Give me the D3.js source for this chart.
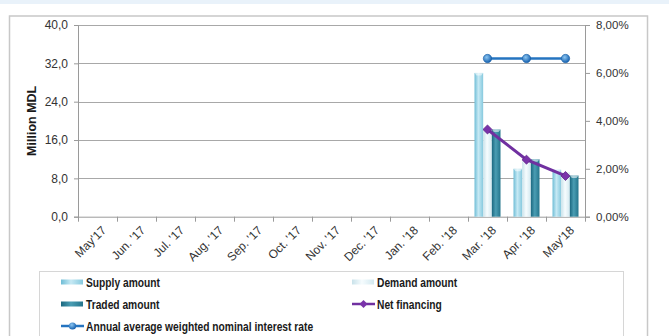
<!DOCTYPE html>
<html>
<head>
<meta charset="utf-8">
<script src="https://cdn.jsdelivr.net/npm/d3@7"></script>
<style>
  html, body { margin: 0; padding: 0; background: #fff; }
  svg { display: block; }
  text { font-family: "Liberation Sans", Arial, sans-serif; }
</style>
</head>
<body>
<svg id="chart" width="669" height="336"></svg>
<script>
// Monthly auction figures (million MDL) and interest rate (%)
const categories = ["May'17", "Jun. '17", "Jul. '17", "Aug. '17", "Sep. '17", "Oct. '17",
  "Nov. '17", "Dec. '17", "Jan. '18", "Feb. '18", "Mar. '18", "Apr. '18", "May'18"];
const supplyAmount = [null, null, null, null, null, null, null, null, null, null, 30.0, 10.0, 9.8];
const demandAmount = [null, null, null, null, null, null, null, null, null, null, 18.3, 11.6, 9.3];
const tradedAmount = [null, null, null, null, null, null, null, null, null, null, 18.2, 12.0, 8.6];
const netFinancing = [null, null, null, null, null, null, null, null, null, null, 18.2, 11.9, 8.5];
const interestRate = [null, null, null, null, null, null, null, null, null, null, 6.6, 6.6, 6.6];
const leftTicks = [0, 8, 16, 24, 32, 40];
const rightTicks = [0, 2, 4, 6, 8];
const barSeries = ["Supply amount", "Demand amount", "Traded amount"];

const svg = d3.select("#chart");
const plot = { left: 78, right: 585, top: 25, bottom: 216.7 };

// gradients for the bevelled bars and the glossy markers
const defs = svg.append("defs");
function hGrad(id, stops) {
  const g = defs.append("linearGradient").attr("id", id)
    .attr("x1", "0%").attr("x2", "100%").attr("y1", "0%").attr("y2", "0%");
  stops.forEach(([o, c]) => g.append("stop").attr("offset", o).attr("stop-color", c));
}
hGrad("gSupply", [["0%", "#6fbdd6"], ["45%", "#c6e9f4"], ["100%", "#86c9de"]]);
hGrad("gDemand", [["0%", "#c9e2ea"], ["45%", "#f6fcfe"], ["100%", "#d3e9f0"]]);
hGrad("gTraded", [["0%", "#1b6880"], ["45%", "#4a9db3"], ["100%", "#24758c"]]);
const rg = defs.append("radialGradient").attr("id", "gDot").attr("cx", "40%").attr("cy", "35%").attr("r", "65%");
rg.append("stop").attr("offset", "0%").attr("stop-color", "#8cc6f2");
rg.append("stop").attr("offset", "100%").attr("stop-color", "#135fae");
const fills = { "Supply amount": "url(#gSupply)", "Demand amount": "url(#gDemand)", "Traded amount": "url(#gTraded)" };
const values = { "Supply amount": supplyAmount, "Demand amount": demandAmount, "Traded amount": tradedAmount };

// page strip and chart frame
svg.append("rect").attr("x", 0).attr("y", 0).attr("width", 669).attr("height", 4).attr("fill", "#e9f2fa");
svg.append("rect").attr("x", 9.5).attr("y", 16).attr("width", 638).attr("height", 340)
  .attr("fill", "#fff").attr("stroke", "#c8c8c8").attr("stroke-width", 1.5);

// scales
const x = d3.scaleBand().domain(categories).range([plot.left, plot.right]).padding(0);
const x1 = d3.scaleBand().domain(barSeries).range([0, x.bandwidth()]).paddingInner(0).paddingOuter(0.75);
const y = d3.scaleLinear().domain([0, 40]).range([plot.bottom, plot.top]);
const yR = d3.scaleLinear().domain([0, 8]).range([plot.bottom, plot.top]);

// horizontal gridlines
svg.append("g").selectAll("line").data(leftTicks.slice(1)).join("line")
  .attr("x1", plot.left).attr("x2", plot.right)
  .attr("y1", d => Math.round(y(d)) + 0.5).attr("y2", d => Math.round(y(d)) + 0.5)
  .attr("stroke", "#a8a8a8").attr("stroke-width", 1);

// left axis
const axL = svg.append("g").attr("transform", `translate(${plot.left},0)`)
  .call(d3.axisLeft(y).tickValues(leftTicks).tickSize(4).tickPadding(6)
    .tickFormat(d => d3.format(".1f")(d).replace(".", ",")));
// right axis
const axR = svg.append("g").attr("transform", `translate(${plot.right},0)`)
  .call(d3.axisRight(yR).tickValues(rightTicks).tickSize(5).tickPadding(6)
    .tickFormat(d => d3.format(".2f")(d).replace(".", ",") + "%"));
// bottom axis with ticks on the category boundaries
const axB = svg.append("g").attr("transform", `translate(0,${plot.bottom})`)
  .call(d3.axisBottom(x).tickSize(0).tickFormat(""));
axB.selectAll(".bound").data(d3.range(categories.length + 1)).join("line").attr("class", "bound")
  .attr("x1", i => Math.round(plot.left + i * x.step()) + 0.5)
  .attr("x2", i => Math.round(plot.left + i * x.step()) + 0.5)
  .attr("y1", 0).attr("y2", 5).attr("stroke", "#9a9a9a");

[axL, axR, axB].forEach(a => {
  a.select(".domain").attr("stroke", "#9a9a9a");
  a.selectAll(".tick line").attr("stroke", "#9a9a9a");
  a.selectAll("text").attr("fill", "#333").style("font-size", "12px")
    .style("font-family", "'Liberation Sans', Arial, sans-serif");
});
axR.selectAll("text").style("font-size", "11.5px");

// rotated month labels
svg.append("g").selectAll("text").data(categories).join("text")
  .attr("transform", d => `translate(${x(d) + x.bandwidth() / 2 + 3},${plot.bottom + 8}) rotate(-45)`)
  .attr("text-anchor", "end").attr("dy", "0.75em")
  .attr("fill", "#333").style("font-size", "12px")
  .text(d => d);

// y-axis title
svg.append("text").attr("transform", `translate(32,${(plot.top + plot.bottom) / 2}) rotate(-90)`)
  .attr("text-anchor", "middle").attr("dy", "0.35em").attr("font-weight", "bold").style("font-size", "12.5px")
  .attr("fill", "#1a1a1a").text("Million MDL");

// bars
const barData = [];
categories.forEach((c, i) => barSeries.forEach(s => {
  if (values[s][i] != null) barData.push({ c, s, v: values[s][i] });
}));
const bars = svg.append("g");
bars.selectAll("rect").data(barData).join("rect")
  .attr("x", d => x(d.c) + x1(d.s)).attr("width", x1.bandwidth())
  .attr("y", d => y(d.v)).attr("height", d => y(0) - y(d.v))
  .attr("fill", d => fills[d.s]);
// light bevel at the top of each bar
bars.selectAll("path").data(barData).join("path")
  .attr("d", d => {
    const x0 = x(d.c) + x1(d.s), w = x1.bandwidth(), t = y(d.v);
    return `M${x0},${t}L${x0 + w},${t}L${x0 + w - 2},${t + 2.5}L${x0 + 2},${t + 2.5}Z`;
  })
  .attr("fill", "#fff").attr("opacity", 0.55);

// net financing line (million MDL, left axis)
const netPts = categories.map((c, i) => ({ c, v: netFinancing[i] })).filter(d => d.v != null);
svg.append("path").datum(netPts)
  .attr("d", d3.line().x(d => x(d.c) + x.bandwidth() / 2).y(d => y(d.v)))
  .attr("fill", "none").attr("stroke", "#7030a0").attr("stroke-width", 3);
svg.append("g").selectAll("path").data(netPts).join("path")
  .attr("transform", d => `translate(${x(d.c) + x.bandwidth() / 2},${y(d.v)})`)
  .attr("d", d3.symbol(d3.symbolDiamond2, 52)())
  .attr("fill", "#7a33aa").attr("stroke", "#5e2388").attr("stroke-width", 0.8);

// interest rate line (%, right axis)
const ratePts = categories.map((c, i) => ({ c, v: interestRate[i] })).filter(d => d.v != null);
svg.append("path").datum(ratePts)
  .attr("d", d3.line().x(d => x(d.c) + x.bandwidth() / 2).y(d => yR(d.v)))
  .attr("fill", "none").attr("stroke", "#2574c0").attr("stroke-width", 2.5);
svg.append("g").selectAll("circle").data(ratePts).join("circle")
  .attr("cx", d => x(d.c) + x.bandwidth() / 2).attr("cy", d => yR(d.v)).attr("r", 4.2)
  .attr("fill", "url(#gDot)").attr("stroke", "#1a5fa6").attr("stroke-width", 0.6);

// legend
svg.append("rect").attr("x", 39.5).attr("y", 271.5).attr("width", 584).attr("height", 80)
  .attr("fill", "#fff").attr("stroke", "#d6d6d6");
const legendItems = [
  { label: "Supply amount", kind: "bar", fill: "url(#gSupply)", col: 0, row: 0 },
  { label: "Demand amount", kind: "bar", fill: "url(#gDemand)", col: 1, row: 0 },
  { label: "Traded amount", kind: "bar", fill: "url(#gTraded)", col: 0, row: 1 },
  { label: "Net financing", kind: "diamond", color: "#7030a0", col: 1, row: 1 },
  { label: "Annual average weighted nominal interest rate", kind: "dot", color: "#2574c0", col: 0, row: 2 }
];
const colX = [61, 352], rowY = [282, 304, 326];
const lg = svg.append("g").selectAll("g").data(legendItems).join("g")
  .attr("transform", d => `translate(${colX[d.col]},${rowY[d.row]})`);
lg.filter(d => d.kind === "bar").append("rect")
  .attr("x", 0).attr("y", -2.5).attr("width", 22).attr("height", 5).attr("fill", d => d.fill);
lg.filter(d => d.kind !== "bar").append("line")
  .attr("x1", 0).attr("x2", 23).attr("y1", 0).attr("y2", 0)
  .attr("stroke", d => d.color).attr("stroke-width", 2.5);
lg.filter(d => d.kind === "diamond").append("path")
  .attr("transform", "translate(11.5,0)").attr("d", d3.symbol(d3.symbolDiamond2, 40)())
  .attr("fill", "#7a33aa");
lg.filter(d => d.kind === "dot").append("circle")
  .attr("cx", 11.5).attr("cy", 0).attr("r", 3.6).attr("fill", "url(#gDot)");
lg.append("text").attr("transform", "translate(25,0) scale(0.82,1)")
  .attr("dy", "0.36em").attr("font-weight", "bold").style("font-size", "12.5px")
  .attr("fill", "#1a1a1a").text(d => d.label);
</script>
</body>
</html>
